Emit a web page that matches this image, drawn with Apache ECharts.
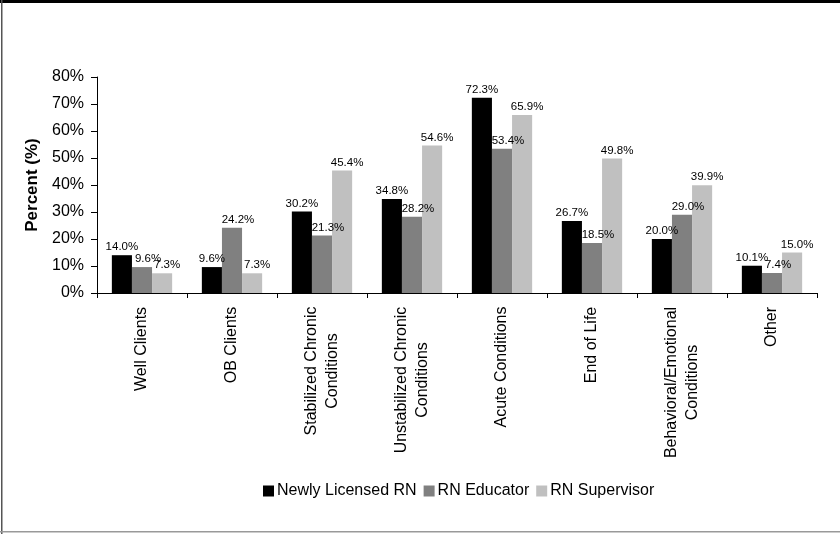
<!DOCTYPE html>
<html>
<head>
<meta charset="utf-8">
<script src="https://cdn.jsdelivr.net/npm/echarts@6/dist/echarts.min.js"></script>
<style>
  html, body { margin: 0; padding: 0; background: #fff; }
  #myChart { width: 840px; height: 534px; }
</style>
</head>
<body>
<div id="myChart"></div>
<script>
// 数据
var categories = ['Well Clients', 'OB Clients', 'Stabilized Chronic\nConditions', 'Unstabilized Chronic\nConditions',
    'Acute Conditions', 'End of Life', 'Behavioral/Emotional\nConditions', 'Other'];
var newlyLicensed = [14.0, 9.6, 30.2, 34.8, 72.3, 26.7, 20.0, 10.1];
var rnEducator = [9.6, 24.2, 21.3, 28.2, 53.4, 18.5, 29.0, 7.4];
var rnSupervisor = [7.3, 7.3, 45.4, 54.6, 65.9, 49.8, 39.9, 15.0];
var seriesNames = ['Newly Licensed RN', 'RN Educator', 'RN Supervisor'];
var yTicks = [0, 10, 20, 30, 40, 50, 60, 70, 80];

var fontFamily = '"Liberation Sans", Arial, sans-serif';

// 多行标签: 各行以最宽的一行居中
var ctx = document.createElement('canvas').getContext('2d');
ctx.font = '16px "Liberation Sans"';
var rich = {};
categories.forEach(function (c, i) {
    var w = 0;
    c.split('\n').forEach(function (l) { w = Math.max(w, ctx.measureText(l).width); });
    rich['c' + i] = { width: Math.ceil(w) + 1, align: 'center', fontSize: 16, lineHeight: 21, color: '#000', fontFamily: fontFamily };
});

function barLabel(dx) {
    return {
        show: true,
        position: 'top',
        distance: 2,
        offset: [dx, 0],
        fontSize: 11.5,
        color: '#000',
        fontFamily: fontFamily,
        formatter: function (p) { return p.value.toFixed(1) + '%'; }
    };
}

var myChart = echarts.init(document.getElementById('myChart'));
var options = {
    animation: false,
    textStyle: { fontFamily: fontFamily },
    graphic: [
        { type: 'rect', shape: { x: 0, y: 0, width: 840, height: 3 }, style: { fill: '#000' } },
        { type: 'rect', shape: { x: 1, y: 0, width: 1.5, height: 534 }, style: { fill: '#555' } },
        { type: 'rect', shape: { x: 0, y: 531, width: 840, height: 1.5 }, style: { fill: '#999' } }
    ],
    legend: {
        data: seriesNames,
        left: 258,
        top: 478,
        icon: 'rect',
        itemWidth: 11,
        itemHeight: 11,
        itemGap: 7,
        textStyle: { fontSize: 16, color: '#000', fontFamily: fontFamily, padding: [0, 0, 0, -2] }
    },
    grid: { left: 97, right: 23, top: 77, bottom: 241, containLabel: false },
    xAxis: {
        type: 'category',
        data: categories,
        axisLine: { lineStyle: { color: '#000', width: 1 } },
        axisTick: { show: true, length: 5, lineStyle: { color: '#000' } },
        axisLabel: {
            interval: 0,
            rotate: 90,
            margin: 13,
            formatter: function (value, idx) {
                return value.split('\n').map(function (l) { return '{c' + idx + '|' + l + '}'; }).join('\n');
            },
            rich: rich
        }
    },
    yAxis: {
        type: 'value',
        min: yTicks[0],
        max: yTicks[yTicks.length - 1],
        interval: 10,
        name: 'Percent (%)',
        nameLocation: 'middle',
        nameGap: 51,
        nameTextStyle: { fontSize: 17, fontWeight: 'bold', color: '#000', fontFamily: fontFamily },
        axisLine: { show: true, lineStyle: { color: '#000', width: 1 } },
        axisTick: { show: true, length: 6, lineStyle: { color: '#000' } },
        splitLine: { show: false },
        axisLabel: { fontSize: 16, color: '#000', margin: 13, formatter: '{value}%' }
    },
    series: [
        { name: seriesNames[0], type: 'bar', data: newlyLicensed, barGap: '0%', barCategoryGap: '33%', itemStyle: { color: '#000000' }, label: barLabel(0) },
        { name: seriesNames[1], type: 'bar', data: rnEducator, barGap: '0%', barCategoryGap: '33%', itemStyle: { color: '#808080' }, label: barLabel(6) },
        { name: seriesNames[2], type: 'bar', data: rnSupervisor, barGap: '0%', barCategoryGap: '33%', itemStyle: { color: '#c0c0c0' }, label: barLabel(5) }
    ]
};
myChart.setOption(options);
</script>
</body>
</html>
